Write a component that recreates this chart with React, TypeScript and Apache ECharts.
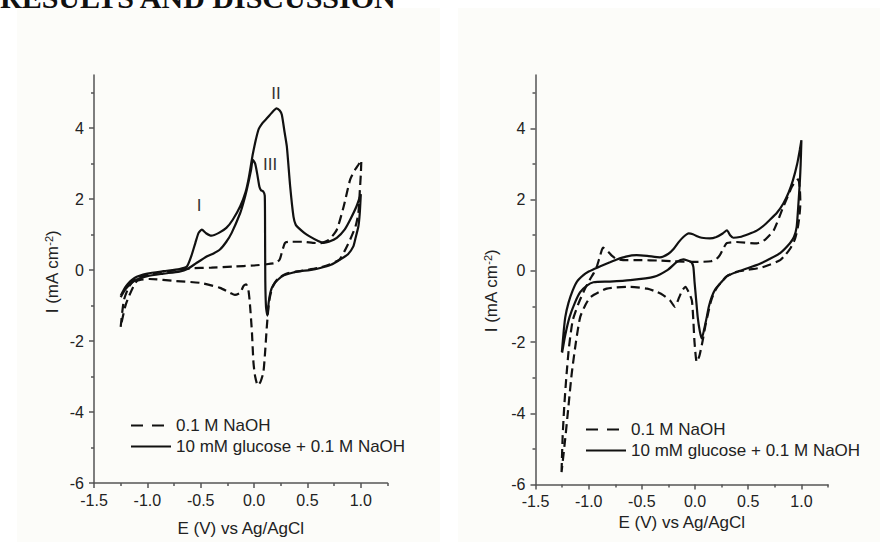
import React, { useEffect, useRef } from "react";
import * as echarts from "echarts";

// ---------- DATA (E in V vs Ag/AgCl, I in mA cm-2) ----------
const seriesNames = ["0.1 M NaOH", "10 mM glucose + 0.1 M NaOH"];

const leftNaOH: [number, number][] = [
  [-1.25, -1.6], [-1.22, -0.85], [-1.17, -0.45], [-1.1, -0.22], [-0.95, -0.1], [-0.75, -0.01],
  [-0.6, 0.05], [-0.4, 0.07], [-0.2, 0.1], [0.0, 0.13], [0.1, 0.16], [0.2, 0.2], [0.24, 0.3],
  [0.26, 0.5], [0.29, 0.77], [0.33, 0.8], [0.45, 0.8], [0.55, 0.77], [0.62, 0.76], [0.7, 0.85],
  [0.775, 1.14], [0.84, 1.8], [0.9, 2.55], [0.95, 2.85], [0.977, 2.97], [1.005, 3.1],
  [1.0, 2.7], [0.99, 2.2], [0.977, 1.6], [0.95, 1.23], [0.9, 0.86], [0.85, 0.55], [0.8, 0.3],
  [0.7, 0.15], [0.6, 0.06], [0.45, -0.02], [0.3, -0.1], [0.22, -0.25], [0.17, -0.5], [0.14, -0.9],
  [0.12, -1.57], [0.103, -2.32], [0.087, -2.88], [0.06, -3.15], [0.035, -3.25], [0.01, -3.0],
  [-0.006, -2.6], [-0.02, -1.76], [-0.04, -0.92], [-0.054, -0.55], [-0.075, -0.4], [-0.1, -0.45],
  [-0.13, -0.64], [-0.18, -0.7], [-0.225, -0.64], [-0.32, -0.5], [-0.5, -0.36], [-0.73, -0.31],
  [-0.98, -0.25], [-1.1, -0.31], [-1.2, -0.95], [-1.25, -1.6],
];

const leftGlucose: [number, number][] = [
  [-1.25, -0.72], [-1.2, -0.45], [-1.12, -0.22], [-1.0, -0.1], [-0.85, -0.03], [-0.7, 0.03],
  [-0.63, 0.1], [-0.59, 0.38], [-0.55, 0.77], [-0.52, 1.05], [-0.49, 1.14], [-0.45, 1.04],
  [-0.4, 0.97], [-0.33, 1.05], [-0.26, 1.19], [-0.2, 1.42], [-0.13, 1.8], [-0.08, 2.2],
  [-0.05, 2.6], [-0.01, 3.3], [0.04, 3.95], [0.08, 4.15], [0.12, 4.28], [0.17, 4.45], [0.21, 4.56],
  [0.24, 4.5], [0.26, 4.38], [0.285, 3.9], [0.307, 3.48], [0.338, 2.36], [0.369, 1.51],
  [0.39, 1.28], [0.416, 1.19], [0.47, 1.05], [0.52, 0.95], [0.6, 0.82], [0.65, 0.77], [0.7, 0.8],
  [0.775, 0.91], [0.85, 1.15], [0.9, 1.42], [0.96, 1.8], [1.0, 2.14],
  [0.99, 1.6], [0.977, 1.23], [0.95, 0.9], [0.93, 0.67], [0.88, 0.45], [0.807, 0.3], [0.72, 0.15],
  [0.62, 0.06], [0.52, 0.0], [0.43, -0.03], [0.35, -0.08], [0.275, -0.15], [0.22, -0.28],
  [0.18, -0.42], [0.155, -0.6], [0.137, -0.9], [0.125, -1.28], [0.112, -1.05], [0.105, -0.3],
  [0.103, 1.0], [0.1, 2.1], [0.085, 2.22], [0.065, 2.25], [0.05, 2.35], [0.03, 2.7], [0.01, 3.0],
  [-0.012, 3.11], [-0.03, 2.8], [-0.069, 2.26], [-0.1, 1.9], [-0.13, 1.61], [-0.21, 1.05],
  [-0.26, 0.8], [-0.32, 0.58], [-0.38, 0.47], [-0.44, 0.39], [-0.54, 0.2], [-0.62, 0.04],
  [-0.7, -0.04], [-0.85, -0.1], [-1.0, -0.17], [-1.12, -0.3], [-1.2, -0.52], [-1.25, -0.76],
];

const rightNaOH: [number, number][] = [
  [-1.255, -5.65], [-1.245, -4.67], [-1.23, -3.82], [-1.21, -2.98], [-1.185, -2.14], [-1.15, -1.39],
  [-1.1, -0.95], [-1.05, -0.6], [-1.0, -0.3], [-0.95, -0.05], [-0.92, 0.15], [-0.89, 0.45],
  [-0.865, 0.65], [-0.82, 0.55], [-0.78, 0.42], [-0.735, 0.33], [-0.65, 0.3], [-0.5, 0.3],
  [-0.35, 0.29], [-0.2, 0.27], [0.0, 0.25], [0.15, 0.27], [0.2, 0.33], [0.235, 0.45], [0.27, 0.65],
  [0.3, 0.78], [0.39, 0.81], [0.58, 0.77], [0.66, 0.88], [0.74, 1.14], [0.83, 1.8], [0.88, 2.15],
  [0.91, 2.36], [0.94, 2.5], [0.97, 2.57],
  [0.985, 2.3], [0.99, 1.9], [0.98, 1.5], [0.965, 1.2], [0.94, 0.9], [0.9, 0.65], [0.85, 0.45],
  [0.8, 0.3], [0.7, 0.17], [0.62, 0.09], [0.5, 0.03], [0.39, -0.03], [0.3, -0.15], [0.235, -0.36],
  [0.19, -0.55], [0.15, -0.85], [0.1, -1.5], [0.078, -1.86], [0.063, -2.09], [0.04, -2.4],
  [0.016, -2.56], [-0.005, -2.0], [-0.016, -1.39], [-0.03, -0.83], [-0.06, -0.6], [-0.09, -0.45],
  [-0.12, -0.55], [-0.15, -0.75], [-0.19, -1.01], [-0.235, -0.83], [-0.3, -0.68], [-0.36, -0.59],
  [-0.45, -0.5], [-0.61, -0.45], [-0.83, -0.5], [-0.98, -0.73], [-1.03, -0.95], [-1.08, -1.3],
  [-1.12, -2.0], [-1.16, -2.9], [-1.19, -3.8], [-1.22, -4.7], [-1.255, -5.65],
];

const rightGlucose: [number, number][] = [
  [-1.252, -2.28], [-1.235, -1.7], [-1.22, -1.3], [-1.19, -0.9], [-1.15, -0.55], [-1.11, -0.3],
  [-1.05, -0.12], [-1.0, -0.02], [-0.95, 0.05], [-0.89, 0.13], [-0.8, 0.24], [-0.735, 0.32],
  [-0.65, 0.4], [-0.55, 0.44], [-0.45, 0.42], [-0.33, 0.38], [-0.25, 0.48], [-0.2, 0.62],
  [-0.15, 0.82], [-0.11, 0.95], [-0.06, 1.05], [-0.02, 1.03], [0.02, 0.97], [0.063, 0.93],
  [0.14, 0.91], [0.2, 0.95], [0.26, 1.05], [0.3, 1.14], [0.33, 1.0], [0.36, 0.93], [0.42, 0.95],
  [0.5, 1.03], [0.58, 1.13], [0.65, 1.28], [0.7, 1.42], [0.77, 1.63], [0.83, 1.89], [0.88, 2.2],
  [0.92, 2.54], [0.96, 3.0], [0.985, 3.4], [1.0, 3.67],
  [0.993, 3.0], [0.986, 2.54], [0.97, 1.8], [0.955, 1.23], [0.93, 0.95], [0.89, 0.77], [0.8, 0.5],
  [0.7, 0.33], [0.61, 0.2], [0.5, 0.08], [0.39, -0.03], [0.3, -0.15], [0.235, -0.36], [0.19, -0.52],
  [0.157, -0.73], [0.13, -1.0], [0.11, -1.3], [0.085, -1.65], [0.063, -1.9], [0.045, -1.7],
  [0.025, -1.3], [0.01, -0.8], [-0.005, -0.3], [-0.016, 0.11], [-0.035, 0.25], [-0.063, 0.28],
  [-0.11, 0.32], [-0.17, 0.25], [-0.26, 0.02], [-0.39, -0.17], [-0.61, -0.26], [-0.8, -0.3],
  [-0.955, -0.32], [-1.02, -0.42], [-1.08, -0.6], [-1.13, -0.9], [-1.18, -1.3], [-1.22, -1.8],
  [-1.25, -2.3],
];

const xMajorTicks = [-1.5, -1.0, -0.5, 0.0, 0.5, 1.0];
const xMinorTicks = [-1.25, -0.75, -0.25, 0.25, 0.75, 1.25];
const yMajorTicks = [-6, -4, -2, 0, 2, 4];
const yMinorTicks = [-5, -3, -1, 1, 3, 5];

const peakNames = ["I", "II", "III"];
const peakE = [-0.516, 0.206, 0.15];
const peakI = [1.81, 4.99, 2.97];

const xTitle = "E (V) vs Ag/AgCl";
const heading = "RESULTS AND DISCUSSION";

// ---------- STYLE ----------
const FONT = "'Liberation Sans', Arial, Helvetica, sans-serif";
const AXIS = "#555555";
const LABEL = "#222222";
const LINE = "#111111";
const DASH = [9, 5];

function makeXAxes(gridIndex: number, nameGap: number) {
  return [
    {
      type: "value", gridIndex, min: -1.5, max: 1.25, position: "bottom",
      name: xTitle, nameLocation: "middle", nameGap,
      nameTextStyle: { fontSize: 17, color: LABEL, fontFamily: FONT },
      axisLine: { show: true, onZero: false, lineStyle: { color: AXIS, width: 1.5 } },
      axisTick: { show: true, customValues: xMajorTicks, length: 5, lineStyle: { color: AXIS, width: 1.5 } },
      axisLabel: {
        show: true, customValues: xMajorTicks, margin: 9, fontSize: 16, color: LABEL, fontFamily: FONT,
        formatter: (v: number) => v.toFixed(1),
      },
      splitLine: { show: false },
    },
    {
      type: "value", gridIndex, min: -1.5, max: 1.25, position: "bottom",
      axisLine: { show: false, onZero: false },
      axisTick: { show: true, customValues: xMinorTicks, length: 3, lineStyle: { color: AXIS, width: 1.5 } },
      axisLabel: { show: false },
      splitLine: { show: false },
    },
  ];
}

function makeYAxes(gridIndex: number) {
  return [
    {
      type: "value", gridIndex, min: -6, max: 5.5, position: "left",
      axisLine: { show: true, onZero: false, lineStyle: { color: AXIS, width: 1.5 } },
      axisTick: { show: true, customValues: yMajorTicks, length: 5, lineStyle: { color: AXIS, width: 1.5 } },
      axisLabel: {
        show: true, customValues: yMajorTicks, margin: 10, fontSize: 16, color: LABEL, fontFamily: FONT,
        formatter: (v: number) => String(v),
      },
      splitLine: { show: false },
    },
    {
      type: "value", gridIndex, min: -6, max: 5.5, position: "left",
      axisLine: { show: false, onZero: false },
      axisTick: { show: true, customValues: yMinorTicks, length: 3, lineStyle: { color: AXIS, width: 1.5 } },
      axisLabel: { show: false },
      splitLine: { show: false },
    },
  ];
}

function lineSeries(name: string, data: [number, number][], axisIndex: number, dashed: boolean, extra: any = {}) {
  return {
    type: "line", name, data, xAxisIndex: axisIndex, yAxisIndex: axisIndex,
    showSymbol: false, symbol: "none", smooth: 0.2, silent: true, clip: false,
    lineStyle: { color: LINE, width: 2.2, type: dashed ? DASH : "solid" },
    itemStyle: { color: LINE },
    ...extra,
  };
}

function makeLegend(left: number, top: number) {
  return {
    left, top, orient: "vertical", itemWidth: 40, itemHeight: 14, itemGap: 4,
    selectedMode: false,
    itemStyle: { opacity: 0 },
    textStyle: { fontSize: 17, color: LABEL, fontFamily: FONT },
    data: [
      { name: seriesNames[0], lineStyle: { type: [12, 9] } },
      { name: seriesNames[1] },
    ],
  };
}

function yTitle(x: number, y: number) {
  return {
    type: "text", x, y, rotation: Math.PI / 2, silent: true,
    style: {
      text: "I (mA cm{sup|-2})",
      fill: LABEL, font: `17px ${FONT}`, align: "center", verticalAlign: "middle",
      rich: { sup: { fontSize: 11, fill: LABEL, fontFamily: FONT, verticalAlign: "top", lineHeight: 11 } },
    },
  };
}

export default function App() {
  const ref = useRef<HTMLDivElement>(null);
  useEffect(() => {
    if (!ref.current) return;
    const chart = echarts.init(ref.current, undefined, { renderer: "svg" });
    const option: any = {
      animation: false,
      backgroundColor: "#ffffff",
      grid: [
        { left: 94, top: 75, width: 293.5, height: 409.5 },
        { left: 535.5, top: 75, width: 292.5, height: 409.5 },
      ],
      xAxis: [...makeXAxes(0, 37), ...makeXAxes(1, 29)],
      yAxis: [...makeYAxes(0), ...makeYAxes(1)],
      legend: [makeLegend(125, 412), makeLegend(580, 416)],
      graphic: [
        { type: "rect", z: -10, silent: true, shape: { x: 17, y: 8, width: 423, height: 534 }, style: { fill: "#fcfcf9" } },
        { type: "rect", z: -10, silent: true, shape: { x: 458, y: 8, width: 422, height: 534 }, style: { fill: "#fcfcf9" } },
        {
          type: "text", x: 0, y: 12, silent: true,
          style: { text: heading, font: "bold 30px 'Liberation Serif', 'Times New Roman', serif", fill: "#111", verticalAlign: "bottom" },
        },
        yTitle(52, 272),
        yTitle(491, 291),
      ],
      series: [
        lineSeries(seriesNames[0], leftNaOH, 0, true),
        lineSeries(seriesNames[1], leftGlucose, 0, false, {
          markPoint: {
            silent: true, symbol: "circle", symbolSize: 1, itemStyle: { color: "rgba(0,0,0,0)" },
            label: { show: true, position: "inside", formatter: "{b}", fontSize: 17, color: "#333", fontFamily: FONT },
            data: peakNames.map((n, i) => ({ name: n, coord: [peakE[i], peakI[i]] })),
          },
        }),
        lineSeries(seriesNames[0], rightNaOH, 2, true),
        lineSeries(seriesNames[1], rightGlucose, 2, false),
      ],
    };
    chart.setOption(option);
    return () => chart.dispose();
  }, []);
  return (
    <div
      ref={ref}
      style={{ position: "absolute", left: 0, top: 0, width: 880, height: 542 }}
    />
  );
}
